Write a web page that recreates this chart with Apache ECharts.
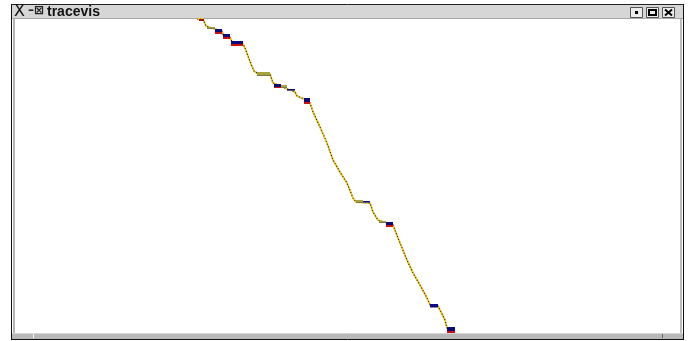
<!DOCTYPE html>
<html><head><meta charset="utf-8">
<script src="https://cdn.jsdelivr.net/npm/echarts@6/dist/echarts.min.js"></script>
<style>html,body{margin:0;padding:0;background:#fff}#c{width:690px;height:341px}</style>
</head><body><div id="c"></div>
<script>
// Trace path: time (x) vs sequence offset (y, increasing downward)
var traceTime = [181,187,190,192,199,206,207,214,216,227,229,232,235,238,241,254,257,265,271,279,281,288,294,297,304,311,317,324,331,337,340,354,357,362,364,377,384,391,397,404,411,414,422,429,431,439];
var traceSeq  = [0,0,7,9,10,12,16,18,23,25,29,37,45,52,54,55,64,67,70,73,77,80,84,93,108,124,141,153,164,179,183,184,193,201,203,206,224,241,254,266,279,286,287,301,309,312];
// Blocks (stalls): start time, end time, top seq, bottom seq, kind
var blockStart = [183,191,199,207,215,241,258,265,271,288,340,347,363,370,414,431];
var blockEnd   = [188,199,206,214,227,254,265,271,279,294,347,354,370,377,422,439];
var blockTop   = [0,8,10,15,22,53,65,66,70,79,181,182,202,203,285,308];
var blockBot   = [2,10,15,20,27,57,69,69,72,85,184,184,204,208,289,314];
var blockKind  = ['red','olive','navy','navy','navy','olive','navy','olive','navyThin','navy','olive','navyThin','olive','navy','navyGray','navy'];

var chart = echarts.init(document.getElementById('c'), null, {renderer:'canvas'});
var tracePts = traceTime.map(function(t,i){return [t, traceSeq[i]];});
var blocks = blockStart.map(function(s,i){return [s, blockEnd[i], blockTop[i], blockBot[i], i];});

var graphics = [
  // title bar
  {type:'rect', shape:{x:11.5,y:4.5,width:672,height:14}, style:{fill:'#d6d6d6', stroke:'#222', lineWidth:1}, z:1},
  {type:'line', shape:{x1:12,y1:18.5,x2:684,y2:18.5}, style:{stroke:'#a8a8a8', lineWidth:1}, z:2},
  {type:'text', x:14, y:4, style:{text:'X', font:'16px "DejaVu Sans"', fill:'#111'}, z:3},
  {type:'text', x:28, y:5, style:{text:'–⊠', font:'bold 12px "DejaVu Sans"', fill:'#222'}, z:3},
  {type:'text', x:47, y:5, style:{text:'tracevis', font:'bold 14px "Liberation Sans"', fill:'#111'}, z:3},
  // buttons
  {type:'rect', shape:{x:630.5,y:7.5,width:12,height:10}, style:{fill:'#ececec', stroke:'#555', lineWidth:1}, z:3},
  {type:'rect', shape:{x:635,y:11,width:3,height:3}, style:{fill:'#000'}, z:4},
  {type:'rect', shape:{x:646.5,y:7.5,width:12,height:10}, style:{fill:'#ececec', stroke:'#555', lineWidth:1}, z:3},
  {type:'rect', shape:{x:649,y:10,width:7,height:5}, style:{fill:'none', stroke:'#000', lineWidth:2}, z:4},
  {type:'rect', shape:{x:662.5,y:7.5,width:12,height:10}, style:{fill:'#ececec', stroke:'#555', lineWidth:1}, z:3},
  {type:'line', shape:{x1:665,y1:9.5,x2:672,y2:15.5}, style:{stroke:'#000', lineWidth:2}, z:4},
  {type:'line', shape:{x1:672,y1:9.5,x2:665,y2:15.5}, style:{stroke:'#000', lineWidth:2}, z:4},
  // left border
  {type:'line', shape:{x1:11.5,y1:4,x2:11.5,y2:340}, style:{stroke:'#111', lineWidth:1}, z:2},
  {type:'rect', shape:{x:13,y:19,width:2,height:315}, style:{fill:'#b4b4b4'}, z:2},
  // right border
  {type:'rect', shape:{x:680,y:19,width:2,height:315}, style:{fill:'#bcbcbc'}, z:2},
  {type:'line', shape:{x1:683.5,y1:4,x2:683.5,y2:340}, style:{stroke:'#111', lineWidth:1}, z:2},
  // bottom bar
  {type:'rect', shape:{x:12,y:333,width:671,height:6}, style:{fill:'#b8b8b8'}, z:2},
  {type:'line', shape:{x1:12,y1:333.5,x2:683,y2:333.5}, style:{stroke:'#d4d4d4', lineWidth:1}, z:3},
  {type:'line', shape:{x1:33.5,y1:334,x2:33.5,y2:338}, style:{stroke:'#f4f4f4', lineWidth:1}, z:3},
  {type:'line', shape:{x1:662.5,y1:334,x2:662.5,y2:338}, style:{stroke:'#666', lineWidth:1}, z:3},
  {type:'line', shape:{x1:11,y1:339.5,x2:684,y2:339.5}, style:{stroke:'#111', lineWidth:1}, z:2}
];

var kindColors = {
  red:{top:'#b01818', bot:'#8a1010'},
  olive:{top:'#a8a23a', bot:'#7c7a48'},
  navy:{top:'#0a0a7a', bot:'#d01010'},
  navyThin:{top:'#10106a', bot:'#5a5a8a'},
  navyGray:{top:'#0c0c80', bot:'#8a8a9a'}
};

chart.setOption({
  animation:false,
  backgroundColor:'#ffffff',
  grid:{left:16, top:19, width:664, height:313},
  xAxis:{type:'value', min:0, max:664, show:false},
  yAxis:{type:'value', min:0, max:313, inverse:true, show:false},
  graphic:graphics,
  series:[
    {type:'line', data:tracePts, symbol:'none', lineStyle:{color:'#ecc81a', width:1.8}, z:2},
    {type:'line', data:tracePts, symbol:'none', lineStyle:{color:'#3a1a30', width:1.2, type:[1,2]}, z:3},
    {type:'custom', data:blocks, z:4,
     renderItem:function(params, api){
       var p0 = api.coord([api.value(0), api.value(2)]);
       var p1 = api.coord([api.value(1), api.value(3)]);
       var k = kindColors[blockKind[api.value(4)]];
       var h = Math.max(2, p1[1]-p0[1]);
       var w = p1[0]-p0[0];
       var botH = Math.max(1, Math.round(h*0.3));
       return {type:'group', children:[
         {type:'rect', shape:{x:p0[0], y:p0[1], width:w, height:h-botH}, style:{fill:k.top}},
         {type:'rect', shape:{x:p0[0], y:p0[1]+h-botH, width:w, height:botH}, style:{fill:k.bot}}
       ]};
     }}
  ]
});
</script></body></html>
